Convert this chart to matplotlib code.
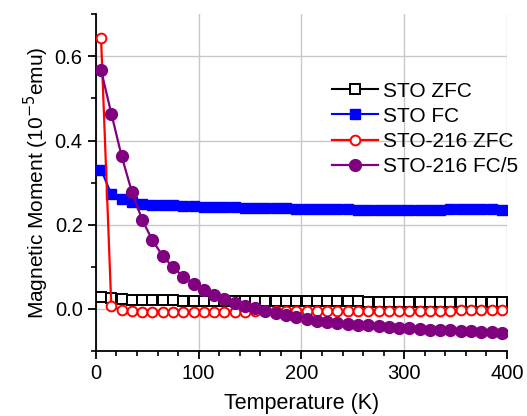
import matplotlib
matplotlib.use("Agg")
import matplotlib.pyplot as plt
from matplotlib.ticker import MultipleLocator, FormatStrFormatter

plt.rcParams['font.family'] = ['Liberation Sans', 'DejaVu Sans']

temperature = [5 + 10 * i for i in range(40)]

sto_zfc = [0.029, 0.025, 0.023, 0.022, 0.022, 0.021, 0.021, 0.021, 0.020, 0.020,
           0.020, 0.020, 0.019, 0.019, 0.019, 0.019, 0.019, 0.019, 0.018, 0.018,
           0.018, 0.018, 0.018, 0.018, 0.018, 0.018, 0.017, 0.017, 0.017, 0.017,
           0.017, 0.017, 0.017, 0.017, 0.017, 0.017, 0.017, 0.017, 0.017, 0.017]

sto_fc = [0.331, 0.272, 0.260, 0.254, 0.250, 0.248, 0.246, 0.246, 0.245, 0.244,
          0.243, 0.242, 0.241, 0.241, 0.240, 0.240, 0.239, 0.239, 0.239, 0.238,
          0.238, 0.238, 0.237, 0.237, 0.237, 0.236, 0.236, 0.236, 0.236, 0.236,
          0.236, 0.236, 0.236, 0.236, 0.237, 0.237, 0.237, 0.237, 0.237, 0.236]

sto216_zfc = [0.643, 0.006, -0.002, -0.005, -0.006, -0.006, -0.007, -0.007, -0.007, -0.007,
              -0.006, -0.006, -0.006, -0.006, -0.006, -0.005, -0.005, -0.005, -0.005, -0.005,
              -0.005, -0.005, -0.005, -0.005, -0.005, -0.005, -0.004, -0.004, -0.004, -0.004,
              -0.004, -0.004, -0.004, -0.004, -0.004, -0.002, -0.003, -0.003, -0.003, -0.002]

sto216_fc5 = [0.567, 0.464, 0.363, 0.278, 0.212, 0.163, 0.126, 0.099, 0.077, 0.060,
              0.045, 0.033, 0.023, 0.015, 0.007, 0.002, -0.005, -0.010, -0.014, -0.020,
              -0.024, -0.028, -0.030, -0.033, -0.035, -0.037, -0.039, -0.040, -0.042, -0.044,
              -0.046, -0.048, -0.049, -0.050, -0.051, -0.052, -0.053, -0.054, -0.055, -0.056]

labels = ['STO ZFC', 'STO FC', 'STO-216 ZFC', 'STO-216 FC/5']

fig = plt.figure(figsize=(5.27, 4.16), dpi=100)
ax = fig.add_axes([0.182, 0.156, 0.780, 0.810])

ax.plot(temperature, sto_zfc, color='black', marker='s', mfc='white', mec='black',
        ms=6.5, mew=1.4, lw=1.5, label=labels[0], zorder=3)
ax.plot(temperature, sto_fc, color='blue', marker='s', mfc='blue', mec='blue',
        ms=7, lw=1.5, label=labels[1], zorder=3)
ax.plot(temperature, sto216_zfc, color='red', marker='o', mfc='white', mec='red',
        ms=7, mew=1.4, lw=1.6, label=labels[2], zorder=3)
ax.plot(temperature, sto216_fc5, color='purple', marker='o', mfc='purple', mec='purple',
        ms=8.5, lw=1.6, label=labels[3], zorder=4)

ax.set_xlim(0, 400)
ax.set_ylim(-0.1, 0.7)
ax.xaxis.set_major_locator(MultipleLocator(100))
ax.xaxis.set_minor_locator(MultipleLocator(20))
ax.yaxis.set_major_locator(MultipleLocator(0.2))
ax.yaxis.set_minor_locator(MultipleLocator(0.1))
ax.yaxis.set_major_formatter(FormatStrFormatter('%.1f'))

ax.grid(True, which='major', color='#c8c8c8', lw=1.0)
ax.set_axisbelow(True)
for s in ['top', 'right']:
    ax.spines[s].set_visible(False)
for s in ['left', 'bottom']:
    ax.spines[s].set_linewidth(1.3)

ax.tick_params(which='major', direction='out', length=6, width=1.3, labelsize=14.5)
ax.tick_params(which='minor', direction='out', length=3.5, width=1.2)

ax.set_xlabel('Temperature (K)', fontsize=15.5, labelpad=7)
ax.set_ylabel('Magnetic Moment (10$^{-5}$emu)', fontsize=15, labelpad=3)

ax.legend(loc='upper left', bbox_to_anchor=(0.575, 0.80), frameon=False, fontsize=15,
          handlelength=2.2, handletextpad=0.25, labelspacing=0.3, borderpad=0.0,
          borderaxespad=0.0)

fig.savefig('out.png', dpi=100)
